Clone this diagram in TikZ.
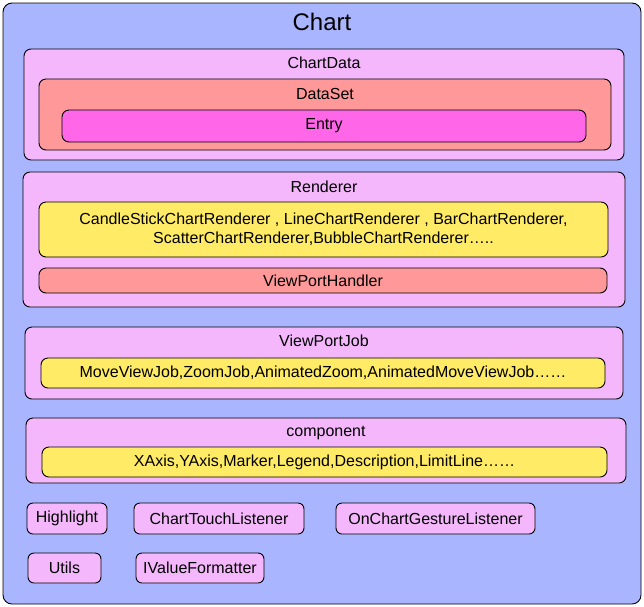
\documentclass[tikz,border=0pt]{standalone}
\usepackage{fontspec}
\setmainfont{Liberation Sans}
\usepackage{xcolor}
\usepackage{tikz}
\usetikzlibrary{positioning}

\definecolor{chartblue}{RGB}{170,181,255}
\definecolor{boxpink}{RGB}{245,183,252}
\definecolor{boxsalmon}{RGB}{255,153,153}
\definecolor{boxmagenta}{RGB}{255,102,232}
\definecolor{boxyellow}{RGB}{255,235,102}

\tikzset{
  box/.style={draw=black, line width=0.9pt, rounded corners=7pt, inner sep=0pt,
    font=\fontsize{16}{19}\selectfont, align=center},
  smallbox/.style={box, rounded corners=6pt},
  title/.style={inner sep=0pt, font=\fontsize{16}{19}\selectfont}
}

\begin{document}
\begin{tikzpicture}[x=1pt, y=-1pt]
	\useasboundingbox (0,0) rectangle (644,606);
	% outer chart
	\node[box, fill=chartblue, minimum width=638pt, minimum height=601pt, rounded corners=9pt] (chart) at (322,303.5) {};
	\node[title, font=\fontsize{24}{28}\selectfont] (charttitle) at (322,22) {Chart};
	% chart data
	\node[box, fill=boxpink, minimum width=600pt, minimum height=111pt] (chartdata) at (324,104.5) {};
	\node[title] (chartdatatitle) at (324,63) {ChartData};
	\node[box, fill=boxsalmon, minimum width=572pt, minimum height=71pt] (dataset) at (325,114.5) {};
	\node[title] (datasettitle) at (325,94) {DataSet};
	\node[box, fill=boxmagenta, minimum width=524pt, minimum height=32pt] (entry) at (324,126) {Entry};
	% renderer
	\node[box, fill=boxpink, minimum width=602pt, minimum height=135pt] (renderer) at (324,239.5) {};
	\node[title] (renderertitle) at (324,187) {Renderer};
	\node[box, fill=boxyellow, minimum width=569pt, minimum height=55pt] (renderers) at (323.5,229.5)
		{CandleStickChartRenderer , LineChartRenderer , BarChartRenderer,\\ScatterChartRenderer,BubbleChartRenderer\dots..};
	\node[box, fill=boxsalmon, minimum width=568pt, minimum height=25pt] (handler) at (323,280.5) {ViewPortHandler};
	% view port job
	\node[box, fill=boxpink, minimum width=598pt, minimum height=72pt] (job) at (324,363) {};
	\node[title] (jobtitle) at (324,341) {ViewPortJob};
	\node[box, fill=boxyellow, minimum width=564pt, minimum height=30pt] (jobs) at (323,373)
		{MoveViewJob,ZoomJob,AnimatedZoom,AnimatedMoveViewJob\dots\dots};
	% component
	\node[box, fill=boxpink, minimum width=600pt, minimum height=65pt] (component) at (326,450.5) {};
	\node[title] (componenttitle) at (326,433) {component};
	\node[box, fill=boxyellow, minimum width=565pt, minimum height=30pt] (components) at (324.5,462)
		{XAxis,YAxis,Marker,Legend,Description,LimitLine\dots\dots};
	% others
	\node[smallbox, fill=boxpink, minimum width=80pt, minimum height=31pt] (highlight) at (67,518.5) {Highlight};
	\node[smallbox, fill=boxpink, minimum width=170pt, minimum height=31pt] (touch) at (219,518.5) {ChartTouchListener};
	\node[smallbox, fill=boxpink, minimum width=199pt, minimum height=31pt] (gesture) at (435.5,518.5) {OnChartGestureListener};
	\node[smallbox, fill=boxpink, minimum width=73pt, minimum height=30pt] (utils) at (64.5,568) {Utils};
	\node[smallbox, fill=boxpink, minimum width=128pt, minimum height=30pt] (formatter) at (200,568) {IValueFormatter};
\end{tikzpicture}
\end{document}
